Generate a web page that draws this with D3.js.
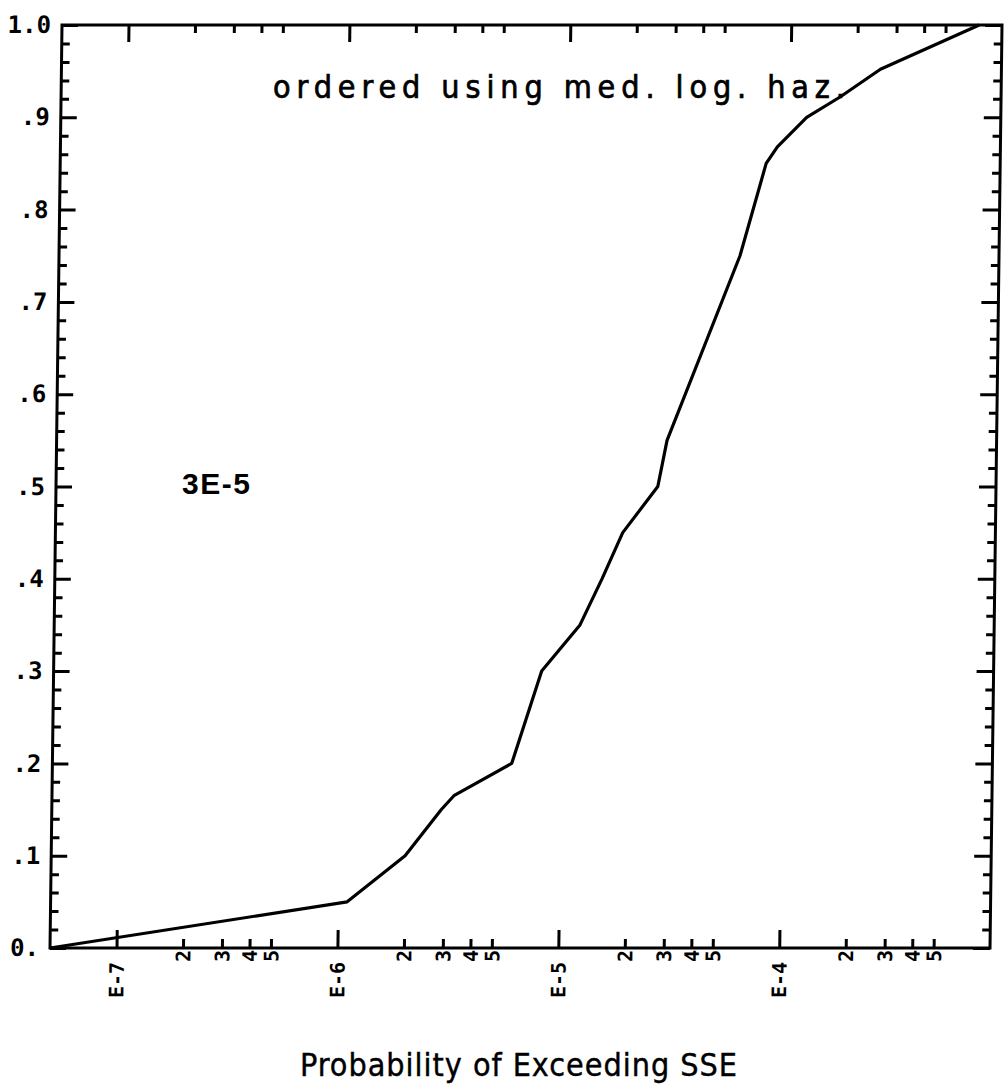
<!DOCTYPE html>
<html>
<head>
<meta charset="utf-8">
<script src="https://cdn.jsdelivr.net/npm/d3@7"></script>
<style>
body { margin: 0; background: #fff; }
svg { display: block; }
.tick text { font-family: "DejaVu Sans Mono", monospace; font-weight: bold; fill: #000; }
.tick line { stroke: #000; stroke-width: 3; }
</style>
</head>
<body>
<div id="chart-area"></div>
<script>
// curve: probability of exceeding SSE vs cumulative fraction
var probExceed = [5e-8, 1.1e-6, 2.0e-6, 2.9e-6, 3.3e-6, 6.0e-6, 8.1e-6, 1.2e-5, 1.5e-5, 1.85e-5,
                  2.65e-5, 2.9e-5, 6.05e-5, 7.85e-5, 8.8e-5, 1.19e-4, 1.68e-4, 2.55e-4, 7.1e-4];
var cumFrac = [0, 0.05, 0.10, 0.15, 0.165, 0.20, 0.30, 0.35, 0.40, 0.45,
               0.50, 0.55, 0.75, 0.85, 0.868, 0.90, 0.922, 0.952, 1.0];

var xMajor = [1e-7, 1e-6, 1e-5, 1e-4];
var xMajorLabels = ["E-7", "E-6", "E-5", "E-4"];
var xMinorMult = [2, 3, 4, 5];
var yMajor = [0, 0.1, 0.2, 0.3, 0.4, 0.5, 0.6, 0.7, 0.8, 0.9, 1.0];
var yLabels = ["0.", ".1", ".2", ".3", ".4", ".5", ".6", ".7", ".8", ".9", "1.0"];

var margin = {top: 25, left: 50};
var width = 940;
var height = 923;

var svg = d3.select("#chart-area").append("svg")
            .attr("width", 1004)
            .attr("height", 1088);

// the scan is slightly sheared: top edge sits ~12px right of the bottom
var g = svg.append("g")
           .attr("transform", "translate(" + margin.left + "," + margin.top + ") translate(0," + height + ") skewX(-0.745) translate(0," + (-height) + ")");

var x = d3.scaleLog().domain([5e-8, 9e-4]).range([0, width]);
var y = d3.scaleLinear().domain([0, 1]).range([height, 0]);

var xMinor = [];
xMajor.forEach(function(m){
  xMinorMult.forEach(function(k){ xMinor.push(m * k); });
});
var yMinor = d3.range(0, 51).map(function(i){ return i / 50; })
               .filter(function(v){ return Math.round(v * 50) % 5 != 0; });

function noDomain(sel){ sel.select(".domain").remove(); }

// bottom axis
g.append("g")
 .attr("transform", "translate(0," + height + ")")
 .call(d3.axisBottom(x).tickValues(xMajor).tickSize(-18)
        .tickFormat(function(d, i){ return xMajorLabels[i]; }))
 .call(noDomain)
 .selectAll("text")
 .attr("font-size", 20)
 .attr("transform", "rotate(-90)")
 .attr("text-anchor", "end")
 .attr("x", -14).attr("y", 0).attr("dy", "0.35em");

g.append("g")
 .attr("transform", "translate(0," + height + ")")
 .call(d3.axisBottom(x).tickValues(xMinor).tickSize(-9)
        .tickFormat(function(d){ return Math.round(d / Math.pow(10, Math.floor(Math.log10(d) + 1e-9))); }))
 .call(noDomain)
 .selectAll("text")
 .attr("font-size", 20)
 .attr("transform", "rotate(-90)")
 .attr("text-anchor", "end")
 .attr("x", -2).attr("y", 0).attr("dy", "0.35em");

// top axis
g.append("g")
 .call(d3.axisTop(x).tickValues(xMajor).tickSize(-17).tickFormat(""))
 .call(noDomain);
g.append("g")
 .call(d3.axisTop(x).tickValues(xMinor).tickSize(-8).tickFormat(""))
 .call(noDomain);

// left axis
g.append("g")
 .call(d3.axisLeft(y).tickValues(yMajor).tickSize(-16).tickPadding(11)
        .tickFormat(function(d, i){ return yLabels[i]; }))
 .call(noDomain)
 .selectAll("text")
 .attr("font-size", 24);
g.append("g")
 .call(d3.axisLeft(y).tickValues(yMinor).tickSize(-8).tickFormat(""))
 .call(noDomain);

// right axis
g.append("g")
 .attr("transform", "translate(" + width + ",0)")
 .call(d3.axisRight(y).tickValues(yMajor).tickSize(-17).tickFormat(""))
 .call(noDomain);
g.append("g")
 .attr("transform", "translate(" + width + ",0)")
 .call(d3.axisRight(y).tickValues(yMinor).tickSize(-8).tickFormat(""))
 .call(noDomain);

// frame
g.append("rect")
 .attr("width", width)
 .attr("height", height)
 .attr("fill", "none")
 .attr("stroke", "#000")
 .attr("stroke-width", 3);

var line = d3.line()
  .x(function(d){ return x(d[0]); })
  .y(function(d){ return y(d[1]); });

g.append("path")
 .datum(d3.zip(probExceed, cumFrac))
 .attr("d", line)
 .attr("fill", "none")
 .attr("stroke", "#000")
 .attr("stroke-width", 3.2)
 .attr("stroke-linejoin", "round");

// texts
svg.append("text")
   .attr("x", 273).attr("y", 98)
   .attr("font-family", "'DejaVu Sans Condensed', 'DejaVu Sans', sans-serif")
   .attr("font-size", 32)
   .attr("stroke", "#000")
   .attr("stroke-width", 0.7)
   .attr("textLength", 572)
   .attr("lengthAdjust", "spacing")
   .text("ordered using med. log. haz.");

svg.append("text")
   .attr("x", 182).attr("y", 494)
   .attr("font-family", "'Liberation Sans', Arial, sans-serif")
   .attr("font-weight", "bold")
   .attr("font-size", 30)
   .attr("textLength", 68)
   .attr("lengthAdjust", "spacing")
   .text("3E-5");

svg.append("text")
   .attr("x", 300).attr("y", 1076)
   .attr("font-family", "'DejaVu Sans Condensed', 'DejaVu Sans', sans-serif")
   .attr("font-size", 32)
   .attr("stroke", "#000")
   .attr("stroke-width", 0.4)
   .attr("textLength", 437)
   .attr("lengthAdjust", "spacing")
   .text("Probability of Exceeding SSE");
</script>
</body>
</html>
